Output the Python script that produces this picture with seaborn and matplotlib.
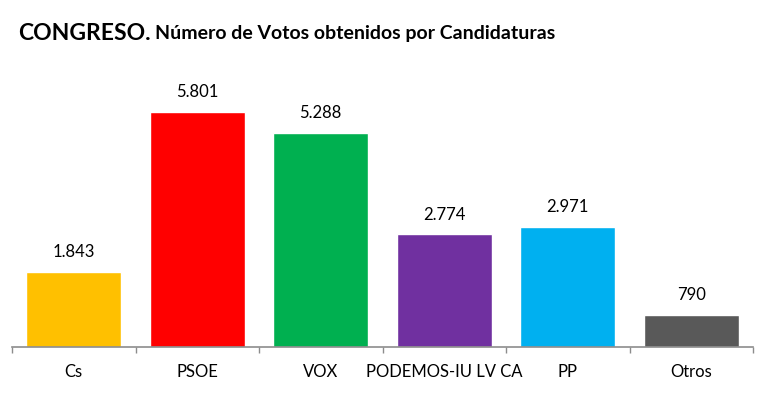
import matplotlib
matplotlib.use("Agg")
import matplotlib.pyplot as plt
import seaborn as sns
import pandas as pd

categories = ["Cs", "PSOE", "VOX", "PODEMOS-IU LV CA", "PP", "Otros"]
votes = [1843, 5801, 5288, 2774, 2971, 790]
value_labels = ["1.843", "5.801", "5.288", "2.774", "2.971", "790"]
colors = ["#FFC000", "#FF0000", "#00B050", "#7030A0", "#00B0F0", "#595959"]

sns.set_theme(style="white")
plt.rcParams['font.family'] = ['Lato', 'DejaVu Sans']

df = pd.DataFrame({"cat": categories, "votes": votes})

fig = plt.figure(figsize=(7.63, 4.0), dpi=100)
ax = fig.add_axes([12/763, 1-347/400, (753-12)/763, 0.7057])
sns.barplot(data=df, x="cat", y="votes", hue="cat", palette=colors,
            width=0.77, saturation=1, legend=False, ax=ax)
ax.set_ylim(0, 6960)
ax.set_xlim(-0.5, len(categories)-0.5)
for s in ["top", "right", "left"]:
    ax.spines[s].set_visible(False)
ax.spines["bottom"].set_color("#8C8C8C")
ax.spines["bottom"].set_linewidth(1.2)
ax.set_yticks([])
ax.set_xlabel("")
ax.set_ylabel("")
ax.set_xticks([i - 0.5 for i in range(len(categories)+1)])
ax.set_xticklabels([])
ax.tick_params(axis="x", which="major", direction="out", length=4, width=1,
               color="#8C8C8C", bottom=True)
ax.set_xticks(range(len(categories)), minor=True)
ax.set_xticklabels(categories, minor=True, fontsize=12, color="black")
ax.tick_params(axis="x", which="minor", length=0, pad=12)

for i, (v, lab) in enumerate(zip(votes, value_labels)):
    ax.annotate(lab, (i, v), xytext=(0, 8.5), textcoords="offset points",
                ha="center", va="bottom", fontsize=12, color="black")

t1 = fig.text(18/763, 1-33/400, "CONGRESO.", fontsize=16.5, fontweight="bold",
              va="center", ha="left", color="black")
fig.canvas.draw()
bb = t1.get_window_extent()
fig.text(bb.x1/763 + 4/763, 1-34/400, "Número de Votos obtenidos por Candidaturas",
         fontsize=14, fontweight="bold", va="center", ha="left", color="black")

fig.savefig("out.png", dpi=100)
